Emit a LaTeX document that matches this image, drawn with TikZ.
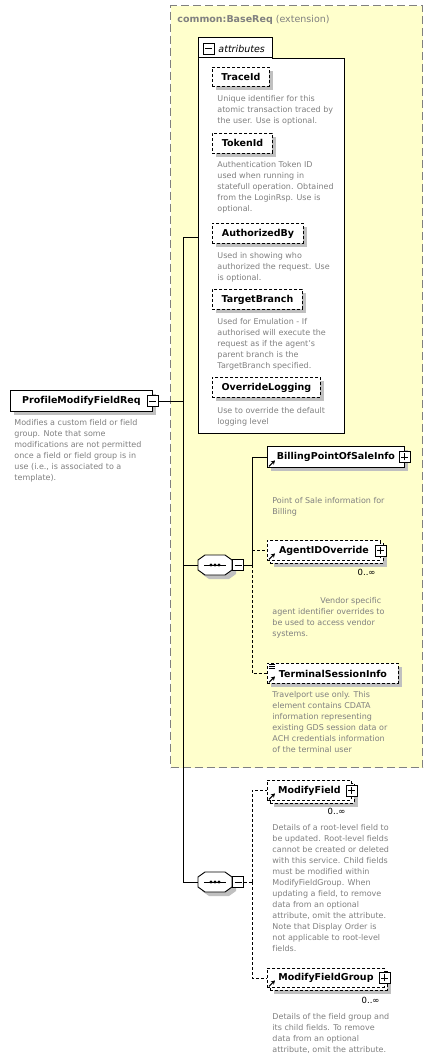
\documentclass[tikz,border=0pt]{standalone}
\usepackage{fontspec}
\setmainfont{DejaVu Sans}[Ligatures=CommonOff]
\usetikzlibrary{calc, positioning, shadows, arrows.meta}

\definecolor{extfill}{HTML}{FFFFCC}
\definecolor{extline}{HTML}{808080}
\definecolor{descgray}{HTML}{808080}
\definecolor{shadowgray}{HTML}{C0C0C0}

\newcommand\namefont{\bfseries\fontsize{9.5}{11}\selectfont}
\newcommand\descfont{\fontsize{8}{11}\selectfont}

\tikzset{
  elembox/.style={draw, fill=white, font=\namefont, inner sep=0pt, anchor=north west, minimum height=20},
  shadowed/.style={drop shadow={shadow xshift=4pt, shadow yshift=-4pt, fill=shadowgray, opacity=1}},
  optional/.style={dash pattern=on 3pt off 2pt},
  attrbox/.style={elembox, shadowed, optional},
  desc/.style={anchor=north west, inner sep=0pt, align=left, text=descgray, font=\descfont},
  pmbox/.style={draw, fill=white, minimum size=11, inner sep=0pt, solid},
  minusbox/.style={pmbox, path picture={
      \draw ([xshift=2pt]path picture bounding box.west) -- ([xshift=-2pt]path picture bounding box.east);}},
  plusbox/.style={pmbox, path picture={
      \draw ([xshift=2pt]path picture bounding box.west) -- ([xshift=-2pt]path picture bounding box.east);
      \draw ([yshift=2pt]path picture bounding box.south) -- ([yshift=-2pt]path picture bounding box.north);}},
  occurs/.style={anchor=north east, inner sep=0pt, font=\fontsize{8.5}{10}\selectfont},
  seqnode/.style={minimum width=34, minimum height=20, inner sep=0pt},
  wire/.style={line width=0.9pt},
  optwire/.style={wire, optional},
}

% compositor octagon with the sequence dots
\newcommand\seqglyph[1]{%
  \fill[shadowgray] ($(#1)+(4,4)$) +(-17,-5) -- +(-10,-10) -- +(10,-10) -- +(17,-5)
    -- +(17,5) -- +(10,10) -- +(-10,10) -- +(-17,5) -- cycle;
  \draw[fill=white] (#1) +(-17,-5) -- +(-10,-10) -- +(10,-10) -- +(17,-5)
    -- +(17,5) -- +(10,10) -- +(-10,10) -- +(-17,5) -- cycle;
  \draw (#1) +(-11,0) -- +(11,0);
  \foreach \dx in {-4,0,4} \fill ($(#1)+(\dx,0)$) circle (1.6);
}
% small reference arrow in the lower left corner
\newcommand\refmark[1]{%
  \draw[line width=1pt, -{Stealth[length=4pt,width=4.5pt]}] ($(#1.south west)+(2,-1.5)$) -- ++(6,-6);
}

\begin{document}
\begin{tikzpicture}[x=1pt, y=-1pt, line width=0.9pt]
  \useasboundingbox (0,0) rectangle (433,1060);
  \fill[white] (0,0) rectangle (433,1060);

  % extension frame
  \node[draw=extline, fill=extfill, dash pattern=on 8pt off 4pt, line width=1.2pt,
        minimum width=252, minimum height=762, anchor=north west, inner sep=0pt] (ext) at (170,5) {};
  \node[anchor=base west, inner sep=0pt, text=extline, font=\fontsize{9.5}{11}\selectfont]
        (exttitle) at (177,23) {\textbf{common:BaseReq} (extension)};

  % attributes group
  \node[draw, fill=white, minimum width=146, minimum height=375, anchor=north west, inner sep=0pt] (attrs) at (198,58) {};
  \node[draw, fill=white, minimum width=74, minimum height=20, anchor=south west, inner sep=0pt] (attrtab) at (attrs.north west) {};
  \draw[white, line width=1pt] ([xshift=0.6pt]attrtab.south west) -- ([xshift=-0.6pt]attrtab.south east);
  \node[minusbox] (attrpm) at (208.5,48.5) {};
  \node[anchor=base west, inner sep=0pt, font=\itshape\fontsize{9.5}{11}\selectfont] (attrlabel) at (218,52) {attributes};

  \node[attrbox, minimum width=57, minimum height=19] (traceid) at (212,67) {TraceId};
  \node[desc] (traceiddesc) at (217,95) {Unique identifier for this\\atomic transaction traced by\\the user. Use is optional.};
  \node[attrbox, minimum width=60] (tokenid) at (212,133) {TokenId};
  \node[desc] (tokeniddesc) at (217,161) {Authentication Token ID\\used when running in\\statefull operation. Obtained\\from the LoginRsp. Use is\\optional.};
  \node[attrbox, minimum width=91] (authby) at (212,223) {AuthorizedBy};
  \node[desc] (authbydesc) at (217,252) {Used in showing who\\authorized the request. Use\\is optional.};
  \node[attrbox, minimum width=90] (targetbr) at (212,289) {TargetBranch};
  \node[desc] (targetbrdesc) at (217,318) {Used for Emulation - If\\authorised will execute the\\request as if the agent's\\parent branch is the\\TargetBranch specified.};
  \node[attrbox, minimum width=108] (overlog) at (212,377) {OverrideLogging};
  \node[desc] (overlogdesc) at (217,407) {Use to override the default\\logging level};

  % root element
  \node[elembox, shadowed, minimum width=142, minimum height=21] (root) at (10,390) {ProfileModifyFieldReq};
  \node[minusbox] (rootpm) at (root.east) {};
  \node[desc] (rootdesc) at (14,419) {Modifies a custom field or field\\group. Note that some\\modifications are not permitted\\once a field or field group is in\\use (i.e., is associated to a\\template).};

  % first sequence
  \node[seqnode] (seqA) at (215,565) {};
  \seqglyph{seqA}
  \node[minusbox] (seqApm) at (238,565) {};

  \node[elembox, shadowed, minimum width=137, minimum height=21] (billing) at (267,446) {BillingPointOfSaleInfo};
  \node[plusbox] (billingpm) at (billing.east) {};
  \refmark{billing}
  \node[desc] (billingdesc) at (272,497) {Point of Sale information for\\Billing};

  \node[elembox, shadowed, optional, minimum width=113] (agentback) at (270,543) {};
  \node[elembox, optional, minimum width=113] (agent) at (267,540) {AgentIDOverride};
  \node[plusbox] (agentpm) at (agent.east) {};
  \refmark{agent}
  \node[occurs] (agentocc) at (376,569) {0..∞};
  \node[desc] (agentdesc) at (272,597) {\hspace*{48pt}Vendor specific\\agent identifier overrides to\\be used to access vendor\\systems.};

  \node[elembox, shadowed, optional, minimum width=131] (terminal) at (267,663) {TerminalSessionInfo};
  \refmark{terminal}
  \foreach \dy in {1.5,3.5,5.5}
    \draw[line width=0.8pt] ($(terminal.north west)+(2,\dy)$) -- ++(6,0);
  \node[desc] (terminaldesc) at (272,691) {Travelport use only. This\\element contains CDATA\\information representing\\existing GDS session data or\\ACH credentials information\\of the terminal user};

  % second sequence
  \node[seqnode] (seqB) at (215,882) {};
  \seqglyph{seqB}
  \node[minusbox] (seqBpm) at (238,882) {};

  \node[elembox, shadowed, optional, minimum width=84] (modfieldback) at (270,783) {};
  \node[elembox, optional, minimum width=84] (modfield) at (267,780) {ModifyField};
  \node[plusbox] (modfieldpm) at (modfield.east) {};
  \refmark{modfield}
  \node[occurs] (modfieldocc) at (346,808) {0..∞};
  \node[desc] (modfielddesc) at (272,824) {Details of a root-level field to\\be updated. Root-level fields\\cannot be created or deleted\\with this service. Child fields\\must be modified within\\ModifyFieldGroup. When\\updating a field, to remove\\data from an optional\\attribute, omit the attribute.\\Note that Display Order is\\not applicable to root-level\\fields.};

  \node[elembox, shadowed, optional, minimum width=117, minimum height=19] (modgroupback) at (270,971) {};
  \node[elembox, optional, minimum width=117, minimum height=19] (modgroup) at (267,968) {ModifyFieldGroup};
  \node[plusbox] (modgrouppm) at (modgroup.east) {};
  \refmark{modgroup}
  \node[occurs] (modgroupocc) at (380,997) {0..∞};
  \node[desc] (modgroupdesc) at (272,1013) {Details of the field group and\\its child fields. To remove\\data from an optional\\attribute, omit the attribute.};

  % connectors
  \coordinate (trunktop) at (183,237);
  \coordinate (trunkbot) at (183,882);
  \coordinate (branchA) at (252,565);
  \coordinate (branchB) at (252,882);
  \draw[wire] (rootpm.east) -- (rootpm.east -| trunktop);
  \draw[wire] (trunktop) -- (trunkbot);
  \draw[wire] (trunktop) -- (trunktop -| attrs.west);
  \draw[wire] (trunktop |- seqA.west) -- (seqA.west);
  \draw[wire] (trunkbot) -- (seqB.west);

  \draw[wire] (seqApm.east) -- (branchA) |- (billing.west);
  \draw[optwire] (branchA) |- (agent.west);
  \draw[optwire] (branchA) |- (terminal.west);

  \draw[optwire] (seqBpm.east) -- (branchB);
  \draw[optwire] (branchB) |- (modfield.west);
  \draw[optwire] (branchB) |- (modgroup.west);
\end{tikzpicture}
\end{document}
